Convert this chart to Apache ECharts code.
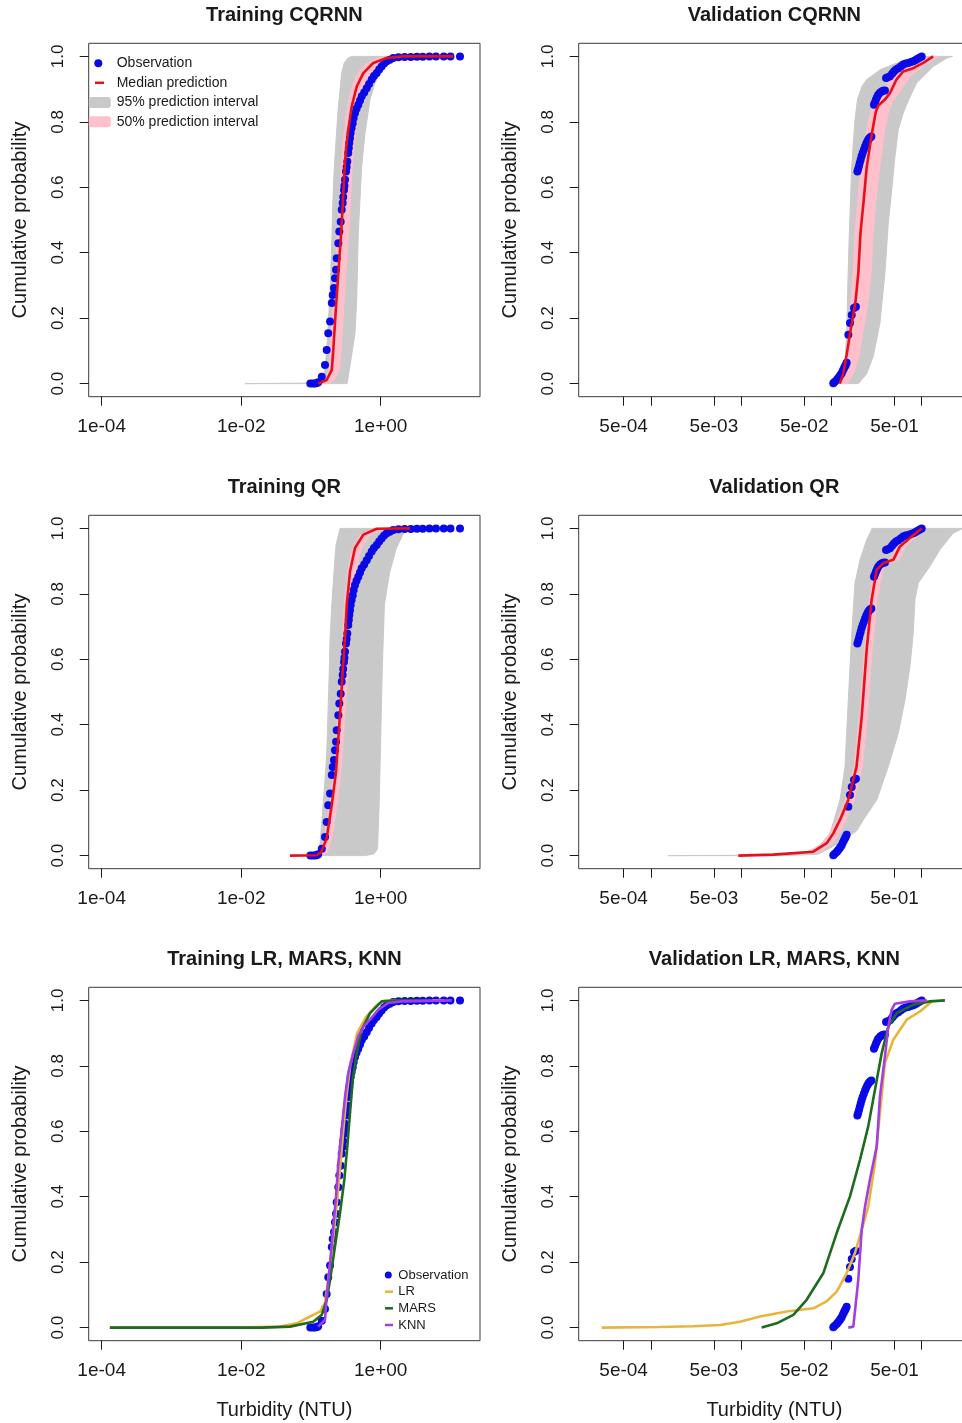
<!DOCTYPE html>
<html><head><meta charset="utf-8">
<script src="https://cdn.jsdelivr.net/npm/echarts@6/dist/echarts.min.js"></script>
<style>html,body{margin:0;padding:0;background:#fff}#c{width:962px;height:1423px}</style>
</head><body><div id="c"></div>
<script>
// ---------------- data: [turbidity (NTU), cumulative probability] ----------------
const titles = ['Training CQRNN','Validation CQRNN','Training QR','Validation QR','Training LR, MARS, KNN','Validation LR, MARS, KNN'];
const yTicks = [0, 0.2, 0.4, 0.6, 0.8, 1.0];
const trainXTicks = [1e-4, 1e-2, 1];
const trainXLabelTicks = [1e-4, 1e-2, 1];
const trainXLabels = ['1e-04', '1e-02', '1e+00'];
const validXTicks = [5e-4, 1e-3, 5e-3, 1e-2, 5e-2, 1e-1, 5e-1, 1];
const validXLabelTicks = [5e-4, 5e-3, 5e-2, 5e-1];
const validXLabels = ['5e-04', '5e-03', '5e-02', '5e-01'];

const trainObs = [[0.098,0],[0.107,0],[0.115,0],[0.122,0.002],[0.127,0.004],[0.143,0.021],[0.159,0.057],[0.168,0.103],
  [0.177,0.154],[0.188,0.19],[0.199,0.246],[0.205,0.271],[0.214,0.292],[0.221,0.322],[0.229,0.348],[0.234,0.383],
  [0.247,0.429],[0.255,0.465],[0.267,0.495],[0.276,0.531],[0.285,0.552],[0.29,0.57],[0.298,0.592],[0.302,0.605],
  [0.308,0.623],[0.318,0.648],[0.325,0.662],[0.332,0.679],[0.343,0.705],[0.349,0.72],[0.355,0.735],[0.363,0.75],
  [0.371,0.766],[0.383,0.781],[0.397,0.796],[0.41,0.812],[0.428,0.827],[0.45,0.84],[0.477,0.852],[0.505,0.865],
  [0.534,0.878],[0.58,0.89],[0.63,0.903],[0.68,0.916],[0.743,0.929],[0.8,0.94],[0.877,0.949],[0.95,0.96],
  [1.03,0.969],[1.12,0.978],[1.22,0.985],[1.35,0.99],[1.51,0.995],[1.8,0.997],[2.2,0.998],[2.7,0.998],
  [3.3,0.999],[4.0,0.999],[5.0,1],[6.2,1],[8.0,1],[10,1],[13.7,1]];
const validObs = [[0.105,0.001],[0.109,0.006],[0.1145,0.011],[0.118,0.016],[0.1224,0.021],[0.126,0.026],[0.13,0.032],
  [0.134,0.04],[0.138,0.047],[0.141,0.052],[0.144,0.057],[0.1476,0.064],
  [0.154,0.149],[0.1607,0.185],[0.168,0.21],[0.178,0.231],[0.187,0.235],
  [0.194,0.648],[0.198,0.656],[0.202,0.664],[0.206,0.674],[0.211,0.684],[0.216,0.695],[0.222,0.705],[0.229,0.715],
  [0.236,0.725],[0.243,0.733],[0.25,0.74],[0.256,0.745],[0.263,0.75],[0.27,0.752],[0.277,0.755],
  [0.296,0.852],[0.304,0.86],[0.312,0.868],[0.321,0.876],[0.33,0.883],[0.345,0.889],[0.36,0.893],[0.375,0.895],[0.392,0.896],
  [0.403,0.934],[0.42,0.936],[0.446,0.939],[0.47,0.947],[0.493,0.954],[0.52,0.96],[0.551,0.964],[0.59,0.97],
  [0.625,0.975],[0.665,0.978],[0.711,0.98],[0.76,0.983],[0.807,0.985],[0.85,0.988],[0.893,0.992],[0.945,0.996],[1.0,1.0]];

// Training CQRNN
const cqTrainMed = [[0.127,0],[0.168,0.011],[0.199,0.042],[0.209,0.103],[0.229,0.236],[0.247,0.338],[0.267,0.44],
  [0.285,0.541],[0.301,0.643],[0.318,0.715],[0.343,0.776],[0.384,0.847],[0.453,0.908],[0.564,0.949],[0.783,0.98],
  [1.22,0.995],[2.11,1.0],[11,1.0]];
const cqTrainLo95 = [[0.0113,0],[0.14,0.002],[0.155,0.02],[0.165,0.08],[0.172,0.134],[0.183,0.236],[0.192,0.338],
  [0.199,0.44],[0.205,0.541],[0.214,0.643],[0.229,0.745],[0.247,0.847],[0.262,0.9],[0.276,0.95],[0.3,0.98],
  [0.34,0.995],[0.38,1.0]];
const cqTrainHi95 = [[0.33,0],[0.36,0.05],[0.428,0.154],[0.453,0.256],[0.477,0.46],[0.534,0.664],[0.596,0.766],
  [0.703,0.868],[0.828,0.919],[1.09,0.969],[1.28,0.99],[1.5,1.0]];
const cqTrainLo50 = [[0.14,0],[0.158,0.01],[0.18,0.042],[0.188,0.103],[0.205,0.236],[0.22,0.338],[0.238,0.44],
  [0.254,0.541],[0.269,0.643],[0.284,0.715],[0.303,0.776],[0.335,0.847],[0.39,0.908],[0.47,0.949],[0.63,0.98],
  [0.93,0.995],[1.5,1.0]];
const cqTrainHi50 = [[0.17,0],[0.215,0.011],[0.255,0.042],[0.27,0.103],[0.295,0.236],[0.318,0.338],[0.343,0.44],
  [0.366,0.541],[0.386,0.643],[0.408,0.715],[0.44,0.776],[0.495,0.847],[0.59,0.908],[0.74,0.949],[1.02,0.98],
  [1.5,0.995],[2.1,1.0]];

// Validation CQRNN
const cqValMed = [[0.124,0],[0.135,0.03],[0.148,0.09],[0.161,0.154],[0.185,0.25],[0.199,0.34],[0.21,0.46],[0.228,0.56],
  [0.246,0.66],[0.279,0.76],[0.31,0.83],[0.331,0.85],[0.392,0.868],[0.446,0.888],[0.528,0.93],[0.625,0.954],
  [0.807,0.964],[1.04,0.98],[1.34,1.0]];
const cqValLo95 = [[0.122,0],[0.14,0.05],[0.148,0.154],[0.152,0.3],[0.158,0.46],[0.168,0.664],[0.1825,0.806],
  [0.195,0.87],[0.22,0.91],[0.246,0.929],[0.35,0.96],[0.6,0.985],[1.04,1.0]];
const cqValHi95 = [[0.199,0],[0.246,0.03],[0.291,0.083],[0.345,0.185],[0.392,0.338],[0.427,0.49],[0.466,0.592],
  [0.506,0.694],[0.551,0.776],[0.625,0.827],[0.72,0.868],[0.88,0.919],[1.04,0.939],[1.34,0.969],[1.9,0.995],[2.2,1.0]];
const cqValLo50 = [[0.128,0],[0.14,0.042],[0.152,0.154],[0.165,0.256],[0.176,0.36],[0.182,0.46],[0.197,0.56],[0.212,0.664],
  [0.24,0.76],[0.27,0.83],[0.295,0.86],[0.355,0.88],[0.43,0.92],[0.55,0.954],[0.74,0.97],[1.0,0.985],[1.3,1.0]];
const cqValHi50 = [[0.15,0],[0.175,0.03],[0.205,0.09],[0.222,0.154],[0.255,0.25],[0.276,0.34],[0.29,0.46],[0.312,0.56],
  [0.342,0.66],[0.382,0.76],[0.42,0.82],[0.47,0.86],[0.56,0.888],[0.67,0.92],[0.82,0.95],[1.12,0.975],[1.55,1.0]];

// Training QR
const qrTrainMed = [[0.05,0],[0.121,0.001],[0.14,0.01],[0.168,0.053],[0.199,0.155],[0.229,0.257],[0.247,0.359],
  [0.267,0.461],[0.285,0.563],[0.308,0.665],[0.326,0.767],[0.363,0.868],[0.428,0.94],[0.564,0.981],[0.877,0.999],[2.63,1.0]];
const qrTrainLo95 = [[0.05,0],[0.13,0.003],[0.132,0.012],[0.143,0.104],[0.156,0.206],[0.168,0.308],[0.177,0.461],
  [0.183,0.563],[0.188,0.665],[0.199,0.767],[0.214,0.868],[0.229,0.95],[0.261,0.999],[0.27,1.0]];
const qrTrainHi95 = [[0.6,0],[0.8,0.005],[0.9,0.02],[0.95,0.155],[1.0,0.359],[1.05,0.563],[1.13,0.767],
  [1.35,0.868],[1.68,0.94],[2.25,0.996],[2.3,1.0]];
const qrTrainLo50 = [[0.06,0],[0.125,0.003],[0.155,0.053],[0.184,0.155],[0.211,0.257],[0.228,0.359],[0.246,0.461],
  [0.263,0.563],[0.284,0.665],[0.3,0.767],[0.334,0.868],[0.392,0.94],[0.51,0.981],[0.8,0.999],[1.5,1.0]];
const qrTrainHi50 = [[0.14,0],[0.17,0.01],[0.2,0.053],[0.236,0.155],[0.27,0.257],[0.291,0.359],[0.315,0.461],
  [0.336,0.563],[0.363,0.665],[0.39,0.767],[0.44,0.868],[0.53,0.94],[0.72,0.981],[1.15,0.999],[2.8,1.0]];

// Validation QR
const qrValMed = [[0.0093,0],[0.0228,0.003],[0.063,0.012],[0.0887,0.038],[0.105,0.068],[0.1245,0.109],[0.154,0.17],
  [0.19,0.272],[0.2168,0.425],[0.246,0.629],[0.279,0.782],[0.318,0.874],[0.376,0.894],[0.485,0.904],[0.575,0.945],
  [0.742,0.971],[1.0,1.0]];
const qrValLo95 = [[0.00156,0],[0.009,0.001],[0.063,0.008],[0.0966,0.068],[0.1245,0.17],[0.1415,0.272],[0.154,0.476],
  [0.168,0.68],[0.1825,0.833],[0.2075,0.904],[0.246,0.965],[0.279,0.996],[0.28,1.0]];
const qrValHi95 = [[0.03,0],[0.07,0.004],[0.1,0.025],[0.1355,0.048],[0.19,0.075],[0.2256,0.109],[0.318,0.17],
  [0.427,0.272],[0.551,0.374],[0.654,0.476],[0.742,0.578],[0.807,0.68],[0.843,0.782],[0.917,0.833],[1.236,0.884],
  [1.595,0.935],[2.24,0.986],[2.79,0.998],[3.5,1.0]];
const qrValLo50 = [[0.009,0],[0.02,0.003],[0.055,0.012],[0.08,0.038],[0.096,0.068],[0.115,0.109],[0.143,0.17],
  [0.178,0.272],[0.204,0.425],[0.232,0.629],[0.263,0.782],[0.3,0.874],[0.35,0.894],[0.45,0.904],[0.54,0.945],
  [0.7,0.971],[0.95,1.0]];
const qrValHi50 = [[0.012,0],[0.03,0.003],[0.075,0.012],[0.104,0.038],[0.123,0.068],[0.145,0.109],[0.178,0.17],
  [0.22,0.272],[0.25,0.425],[0.283,0.629],[0.322,0.782],[0.372,0.874],[0.435,0.894],[0.56,0.904],[0.66,0.945],
  [0.84,0.971],[1.1,1.0]];

// Training LR / MARS / KNN
const lrTrain = [[0.000131,0],[0.01,0],[0.036,0.003],[0.0625,0.013],[0.097,0.034],[0.135,0.049],[0.159,0.075],
  [0.17,0.12],[0.19,0.2],[0.215,0.3],[0.24,0.4],[0.265,0.5],[0.29,0.6],[0.32,0.7],[0.365,0.8],[0.46,0.9],
  [0.62,0.95],[0.87,0.985],[1.1,0.998],[1.6,1.0],[8,1.0]];
const marsTrain = [[0.000131,0],[0.02,0],[0.05,0.003],[0.108,0.018],[0.143,0.039],[0.168,0.085],[0.188,0.146],
  [0.221,0.248],[0.261,0.35],[0.301,0.452],[0.332,0.554],[0.363,0.656],[0.397,0.757],[0.453,0.839],[0.534,0.91],
  [0.703,0.961],[1.03,0.997],[1.7,1.0],[5.5,1.0]];
const knnTrain = [[0.127,0.003],[0.159,0.024],[0.168,0.095],[0.188,0.197],[0.209,0.309],[0.229,0.401],[0.247,0.503],
  [0.276,0.605],[0.308,0.706],[0.343,0.778],[0.405,0.839],[0.477,0.89],[0.564,0.92],[0.703,0.941],[0.925,0.972],
  [1.28,0.992],[2.0,0.997],[10.4,1.0]];

// Validation LR / MARS / KNN
const lrVal = [[0.000286,0],[0.00126,0.002],[0.00296,0.004],[0.00584,0.008],[0.00973,0.018],[0.0162,0.034],[0.032,0.049],
  [0.063,0.059],[0.0887,0.08],[0.1145,0.11],[0.1476,0.166],[0.1825,0.228],[0.2168,0.299],[0.256,0.37],[0.304,0.503],
  [0.345,0.656],[0.392,0.809],[0.485,0.88],[0.682,0.941],[0.958,0.966],[1.236,0.992],[1.34,1.0]];
const marsVal = [[0.0169,0],[0.0248,0.013],[0.0379,0.039],[0.0532,0.085],[0.0813,0.166],[0.1145,0.289],[0.1607,0.401],
  [0.2075,0.513],[0.256,0.615],[0.304,0.727],[0.361,0.839],[0.427,0.92],[0.528,0.961],[0.807,0.987],[1.236,0.997],[1.81,1.0]];
const knnVal = [[0.154,0],[0.175,0.003],[0.1986,0.146],[0.2168,0.299],[0.236,0.37],[0.267,0.452],[0.318,0.554],
  [0.345,0.706],[0.392,0.829],[0.427,0.92],[0.466,0.972],[0.506,0.99],[0.742,0.997],[1.14,1.0]];

// ---------------- styling / layout ----------------
const FONT = '"Liberation Sans", Arial, Helvetica, sans-serif';
const C = {obs:'#0a0ae6', med:'#e5101c', g95:'#c9c9c9', p50:'#ffc0cb', lr:'#e8b53a', mars:'#1d6b1d', knn:'#a23fe0', ink:'#1a1a1a', frame:'#3a3a3a'};
const colLeft = [88.7, 578.7], rowTop = [43.3, 515.3, 987.3], boxW = 391.3, boxH = 353.4;
const xRange = {train:[6.52e-5, 26.5], valid:[1.59e-4, 3.43]};

const panels = [
  {col:0,row:0,kind:'train',g95:[cqTrainLo95,cqTrainHi95],p50:[cqTrainLo50,cqTrainHi50],med:cqTrainMed,obs:trainObs},
  {col:1,row:0,kind:'valid',g95:[cqValLo95,cqValHi95],p50:[cqValLo50,cqValHi50],med:cqValMed,obs:validObs},
  {col:0,row:1,kind:'train',g95:[qrTrainLo95,qrTrainHi95],p50:[qrTrainLo50,qrTrainHi50],med:qrTrainMed,obs:trainObs},
  {col:1,row:1,kind:'valid',g95:[qrValLo95,qrValHi95],p50:[qrValLo50,qrValHi50],med:qrValMed,obs:validObs},
  {col:0,row:2,kind:'train',lines:[['LR',lrTrain,C.lr],['MARS',marsTrain,C.mars],['KNN',knnTrain,C.knn]],obs:trainObs},
  {col:1,row:2,kind:'valid',lines:[['LR',lrVal,C.lr],['MARS',marsVal,C.mars],['KNN',knnVal,C.knn]],obs:validObs}
];

function labelFor(ticks, labels) {
  return v => {
    for (let i = 0; i < ticks.length; i++) {
      if (Math.abs(Math.log10(ticks[i]) - Math.log10(v)) < 1e-6) return labels[i];
    }
    return '';
  };
}
function band(k, name, lo, hi, color) {
  const poly = lo.concat(hi.slice().reverse());
  return {
    type:'custom', name, xAxisIndex:k, yAxisIndex:k, silent:true, z:1, clip:true,
    data:[[1,0.5]], encode:{x:0,y:1}, itemStyle:{color},
    renderItem:(params, api) => ({
      type:'polygon',
      shape:{points: poly.map(pt => api.coord(pt))},
      style:{fill:color, stroke:color, lineWidth:1}
    })
  };
}

const grid = [], xAxis = [], yAxis = [], series = [], title = [];
panels.forEach((p, k) => {
  const left = colLeft[p.col], top = rowTop[p.row];
  grid.push({left, top, width:boxW, height:boxH, show:true, borderColor:C.frame, borderWidth:1,
    backgroundColor:'transparent', containLabel:false, outerBoundsMode:'none'});
  const isTrain = p.kind === 'train';
  const ticks = isTrain ? trainXTicks : validXTicks;
  const lticks = isTrain ? trainXLabelTicks : validXLabelTicks;
  const labels = isTrain ? trainXLabels : validXLabels;
  xAxis.push({gridIndex:k, type:'log', logBase:10, position:'bottom', min:xRange[p.kind][0], max:xRange[p.kind][1],
    axisLine:{show:false, onZero:false}, splitLine:{show:false}, minorTick:{show:false},
    axisTick:{show:true, inside:false, length:9, customValues:ticks, lineStyle:{color:C.ink, width:1}},
    axisLabel:{show:true, customValues:lticks, formatter:labelFor(lticks, labels), margin:21, fontSize:19, color:C.ink, fontFamily:FONT},
    name: p.row === 2 ? 'Turbidity (NTU)' : '', nameLocation:'middle', nameGap:59.5,
    nameTextStyle:{fontSize:20, color:C.ink, fontFamily:FONT}});
  yAxis.push({gridIndex:k, type:'value', position:'left', min:-0.04, max:1.04,
    axisLine:{show:false, onZero:false}, splitLine:{show:false},
    axisTick:{show:true, inside:false, length:9, customValues:yTicks, lineStyle:{color:C.ink, width:1}},
    axisLabel:{show:true, customValues:yTicks, rotate:90, margin:22, fontSize:17, color:C.ink, fontFamily:FONT,
      formatter: v => v.toFixed(1)},
    name:'Cumulative probability', nameLocation:'middle', nameGap:58.5,
    nameTextStyle:{fontSize:20, color:C.ink, fontFamily:FONT}});
  title.push({text:titles[k], left:left + boxW/2, top:top - 37.5, textAlign:'center', padding:0,
    textStyle:{fontSize:20, fontWeight:'bold', color:C.ink, fontFamily:FONT}});

  if (p.g95) {
    series.push(band(k, '95% prediction interval', p.g95[0], p.g95[1], C.g95));
    series.push(band(k, '50% prediction interval', p.p50[0], p.p50[1], C.p50));
  }
  series.push({type:'scatter', name:'Observation', xAxisIndex:k, yAxisIndex:k, data:p.obs,
    symbol:'circle', symbolSize:8, itemStyle:{color:C.obs, opacity:1}, z:2, silent:true});
  if (p.med) {
    series.push({type:'line', name:'Median prediction', xAxisIndex:k, yAxisIndex:k, data:p.med,
      showSymbol:false, symbol:'none', lineStyle:{color:C.med, width:2.6}, itemStyle:{color:C.med}, z:3, silent:true});
  }
  if (p.lines) {
    p.lines.forEach(([nm, d, col]) => series.push({type:'line', name:nm, xAxisIndex:k, yAxisIndex:k, data:d,
      showSymbol:false, symbol:'none', lineStyle:{color:col, width:2.6}, itemStyle:{color:col}, z:3, silent:true}));
  }
});

// legends: one component per item so each icon can have its own shape / size
function legendItem(name, icon, w, h, color, iconLeft, centerY, textX, fs) {
  const th = Math.max(h, fs);
  return {show:true, selectedMode:false, orient:'vertical', padding:0, left:iconLeft, top:centerY - th/2,
    itemWidth:w, itemHeight:h, itemGap:0,
    textStyle:{fontSize:fs, lineHeight:fs, color:C.ink, fontFamily:FONT, padding:[0,0,0, textX - (iconLeft + w + 5)]},
    data:[{name, icon, itemStyle:{color, borderWidth:0}}]};
}
const legend = [
  legendItem('Observation','circle',8,8,C.obs,94.3,63.3,116.7,14),
  legendItem('Median prediction','rect',9,2.5,C.med,95,82.8,116.7,14),
  legendItem('95% prediction interval','roundRect',22,11,C.g95,88.8,102.5,116.7,14),
  legendItem('50% prediction interval','roundRect',22,11,C.p50,88.8,121.8,116.7,14),
  legendItem('Observation','circle',7,7,C.obs,384.8,1275,398.3,13),
  legendItem('LR','rect',8,2.5,C.lr,385,1291.7,398.3,13),
  legendItem('MARS','rect',8,2.5,C.mars,385,1308.3,398.3,13),
  legendItem('KNN','rect',8,2.5,C.knn,385,1325,398.3,13)
];

const chart = echarts.init(document.getElementById('c'), null, {renderer:'canvas'});
chart.setOption({
  animation:false, backgroundColor:'#ffffff',
  textStyle:{fontFamily:FONT},
  title, grid, xAxis, yAxis, series, legend
});
</script>
</body></html>
